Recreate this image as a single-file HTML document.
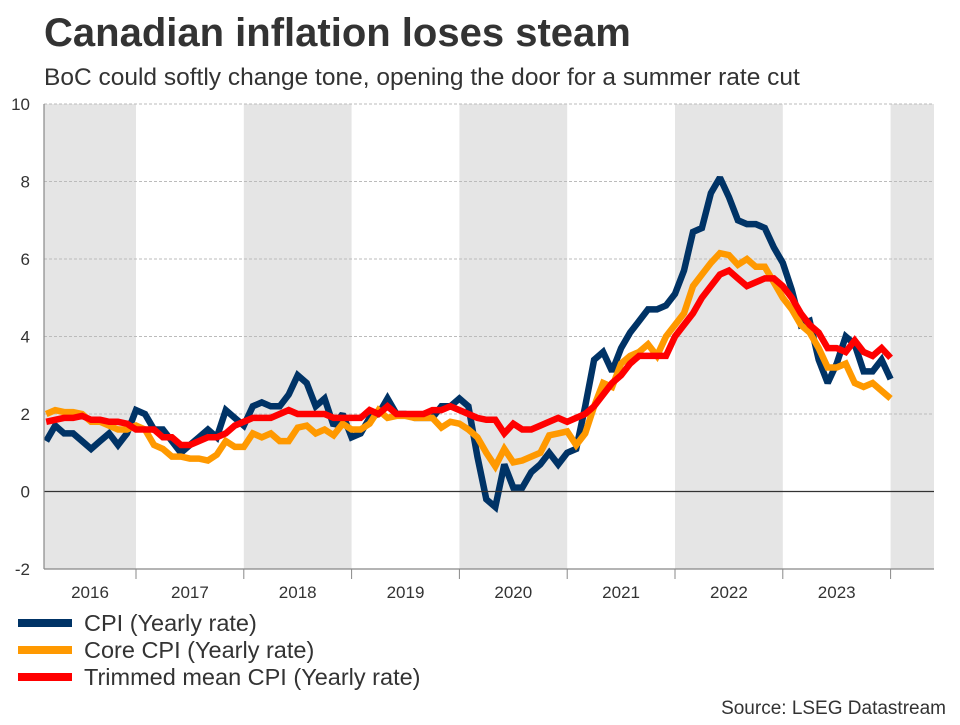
<!DOCTYPE html>
<html><head><meta charset="utf-8"><style>
body{margin:0;background:#fff;font-family:"Liberation Sans",Arial,sans-serif;}
svg text{font-family:"Liberation Sans",Arial,sans-serif;}
</style></head><body>
<svg id="c" width="960" height="720" xmlns="http://www.w3.org/2000/svg">
<text x="44" y="46" font-size="40" font-weight="bold" fill="#333">Canadian inflation loses steam</text>
<text x="44" y="85" font-size="24.5" fill="#333">BoC could softly change tone, opening the door for a summer rate cut</text>
<g id="bands"></g><g id="grid"></g><g id="series"></g><g id="axes"></g>
<g>
<line x1="18" y1="623" x2="72" y2="623" stroke="#003366" stroke-width="8"/>
<text x="84" y="631" font-size="23.5" fill="#333">CPI (Yearly rate)</text>
<line x1="18" y1="650" x2="72" y2="650" stroke="#ff9900" stroke-width="8"/>
<text x="84" y="658" font-size="23.5" fill="#333">Core CPI (Yearly rate)</text>
<line x1="18" y1="677" x2="72" y2="677" stroke="#ff0000" stroke-width="8"/>
<text x="84" y="685" font-size="23.5" fill="#333">Trimmed mean CPI (Yearly rate)</text>
</g>
<text x="946" y="714" font-size="19" fill="#333" text-anchor="end">Source: LSEG Datastream</text>
</svg>
<script>
const years=[2016,2017,2018,2019,2020,2021,2022,2023];
const yTicks=[-2,0,2,4,6,8,10];
const startMonth=2; // March 2016 (months since Jan 2016)
const cpi=[1.3,1.7,1.5,1.5,1.3,1.1,1.3,1.5,1.2,1.5,
2.1,2.0,1.6,1.6,1.3,1.0,1.2,1.4,1.6,1.4,2.1,1.9,
1.7,2.2,2.3,2.2,2.2,2.5,3.0,2.8,2.2,2.4,1.7,2.0,
1.4,1.5,1.9,2.0,2.4,2.0,2.0,1.9,1.9,1.9,2.2,2.2,
2.4,2.2,0.9,-0.2,-0.4,0.7,0.1,0.1,0.5,0.7,1.0,0.7,
1.0,1.1,2.2,3.4,3.6,3.1,3.7,4.1,4.4,4.7,4.7,4.8,
5.1,5.7,6.7,6.8,7.7,8.1,7.6,7.0,6.9,6.9,6.8,6.3,
5.9,5.2,4.3,4.4,3.4,2.8,3.3,4.0,3.8,3.1,3.1,3.4,
2.9];
const core=[2.0,2.1,2.05,2.05,2.0,1.8,1.8,1.7,1.6,1.6,
1.7,1.6,1.2,1.1,0.9,0.9,0.85,0.85,0.8,0.95,1.3,1.15,
1.15,1.5,1.4,1.5,1.3,1.3,1.65,1.7,1.5,1.6,1.45,1.75,
1.6,1.6,1.75,2.1,1.9,1.95,1.95,1.9,1.9,1.9,1.65,1.8,
1.75,1.6,1.4,1.0,0.65,1.1,0.75,0.8,0.9,1.0,1.45,1.5,
1.55,1.2,1.5,2.2,2.8,2.7,3.3,3.5,3.6,3.8,3.5,4.0,
4.3,4.6,5.3,5.6,5.9,6.15,6.1,5.85,6.0,5.8,5.8,5.4,
5.0,4.7,4.3,4.1,3.7,3.2,3.2,3.3,2.8,2.7,2.8,2.6,
2.4];
const trimmed=[1.8,1.85,1.9,1.9,1.95,1.85,1.85,1.8,1.8,1.75,
1.6,1.6,1.6,1.4,1.4,1.2,1.2,1.3,1.4,1.4,1.5,1.7,
1.8,1.9,1.9,1.9,2.0,2.1,2.0,2.0,2.0,2.0,1.9,1.9,
1.9,1.9,2.1,2.0,2.2,2.0,2.0,2.0,2.0,2.1,2.1,2.2,
2.1,2.0,1.9,1.85,1.85,1.5,1.75,1.6,1.6,1.7,1.8,1.9,
1.8,1.9,2.0,2.2,2.5,2.8,3.0,3.3,3.5,3.5,3.5,3.5,
4.0,4.3,4.6,5.0,5.3,5.6,5.7,5.5,5.3,5.4,5.5,5.5,
5.3,5.0,4.6,4.3,4.1,3.7,3.7,3.6,3.9,3.6,3.5,3.7,
3.45];
const L=44,R=934,T=104,B=569,NS="http://www.w3.org/2000/svg";
const yS=v=>B-(v+2)/12*(B-T);
const mW=107.8/12;
const xS=m=>136+(m-12)*mW; // m = months since Jan 2016
function mk(tag,attrs,parent){const e=document.createElementNS(NS,tag);for(const k in attrs)e.setAttribute(k,attrs[k]);parent.appendChild(e);return e;}
const bands=document.getElementById('bands'),grid=document.getElementById('grid'),ser=document.getElementById('series'),ax=document.getElementById('axes');
for(let y=2016;y<=2024;y++){
  if((y-2016)%2===0){
    const x0=Math.max(L,xS((y-2016)*12)),x1=Math.min(R,xS((y-2015)*12));
    const r=mk('rect',{x:x0,y:T,width:x1-x0,height:B-T,fill:'#e5e5e5'},bands);
    
    
  }
}
yTicks.forEach(v=>{
  const y=yS(v);
  if(v!==0&&v!==-2){const g=mk('line',{x1:L,x2:R,y1:y,y2:y,stroke:'#bbb','stroke-dasharray':'3,2','stroke-width':1},grid);
  
  }
  const t=mk('text',{x:30,y:y+6,'font-size':17,fill:'#333','text-anchor':'end'},ax);t.textContent=v;
  
  
});
const z=mk('line',{x1:L,x2:R,y1:yS(0),y2:yS(0),stroke:'#333','stroke-width':1.2},ax);


const ya=mk('line',{x1:L,x2:L,y1:T,y2:B,stroke:'#888','stroke-width':1.2},ax);


const xa=mk('line',{x1:L,x2:R,y1:B,y2:B,stroke:'#888','stroke-width':1.2},ax);


for(let y=2017;y<=2024;y++){
  const x=xS((y-2016)*12);
  const tk=mk('line',{x1:x,x2:x,y1:B,y2:B+10,stroke:'#888','stroke-width':1},ax);
  
  
}
years.forEach(y=>{
  const x0=Math.max(L,xS((y-2016)*12)),x1=xS((y-2015)*12);
  const t=mk('text',{x:(x0+x1)/2,y:598,'font-size':17,fill:'#333','text-anchor':'middle'},ax);t.textContent=y;
  
  
});
function line(data,color,name){
  const d=data.map((v,i)=>(i?'L':'M')+xS(startMonth+i).toFixed(1)+','+yS(v).toFixed(1)).join('');
  const p=mk('path',{d:d,fill:'none',stroke:color,'stroke-width':6.5,'stroke-linejoin':'miter','stroke-miterlimit':2},ser);
  
  
}
line(cpi,'#003366','cpi-line');
line(core,'#ff9900','core-cpi-line');
line(trimmed,'#ff0000','trimmed-mean-line');
</script>
</body></html>
